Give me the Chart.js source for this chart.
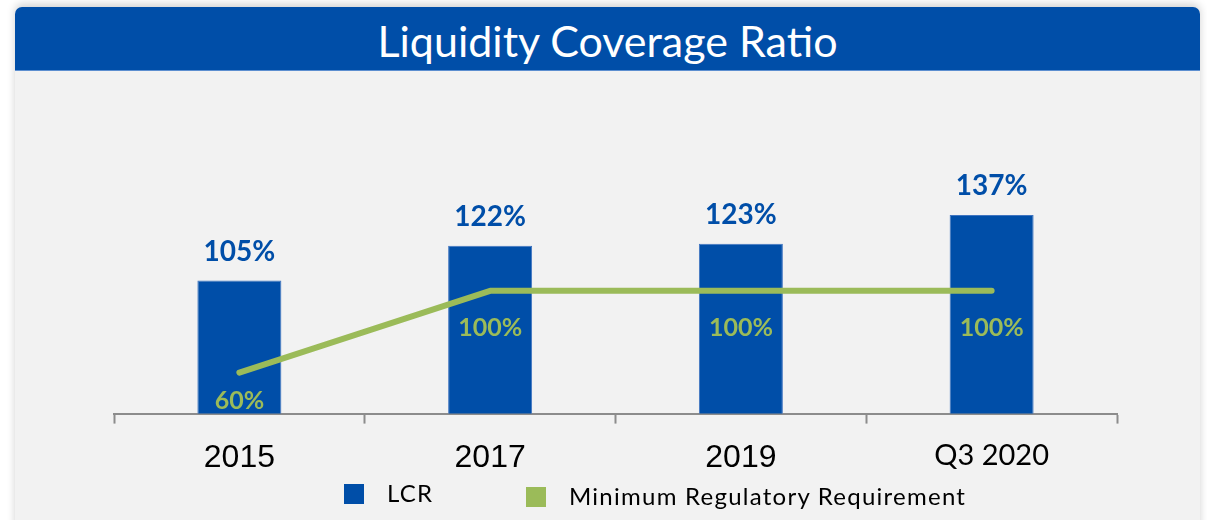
<!DOCTYPE html>
<html>
<head>
<meta charset="utf-8">
<script src="https://cdn.jsdelivr.net/npm/chart.js@4/dist/chart.umd.min.js"></script>
<style>
    html, body {
        margin: 0;
        padding: 0;
        background: #ffffff;
        width: 1207px;
        height: 520px;
        overflow: hidden;
    }
    .panel {
        position: absolute;
        left: 15px;
        top: 7px;
        width: 1185px;
        height: 540px;
        background: #f2f2f2;
        border-radius: 7px 7px 0 0;
        box-shadow: 0 -3px 8px rgba(0, 0, 0, 0.18);
        overflow: hidden;
    }
    .title {
        height: 63px;
        background: #004ea8;
        border-bottom: 1px solid #5d8fd0;
        color: #ffffff;
        font-family: Lato, sans-serif;
        font-size: 43px;
        line-height: 68px;
        text-align: center;
    }
    .chart-box {
        position: absolute;
        left: 15px;
        top: 70px;
        width: 1185px;
        height: 426px;
    }
    .legend {
        position: absolute;
        top: 480px;
        left: 0;
        width: 1207px;
        font-family: Lato, sans-serif;
        font-size: 24px;
        color: #000000;
    }
    .legend-item {
        position: absolute;
        top: 0;
        height: 28px;
        line-height: 28px;
        white-space: nowrap;
    }
    .legend-item .swatch {
        position: absolute;
        left: 0;
        top: 2px;
        width: 20px;
        height: 20px;
    }
    .legend-item .text {
        position: absolute;
        left: 43px;
        top: -3px;
        letter-spacing: 1.25px;
    }
</style>
</head>
<body>
<div class="panel">
    <div class="title">Liquidity Coverage Ratio</div>
</div>
<div class="chart-box"><canvas id="lcrChart"></canvas></div>
<div class="legend" id="legend"></div>

<script>
// Data
const categories = ['2015', '2017', '2019', 'Q3 2020'];
const lcrValues = [105, 122, 123, 137];
const minimumValues = [60, 100, 100, 100];
const seriesNames = ['LCR', 'Minimum Regulatory Requirement'];

const BLUE = '#004ea8';
const GREEN = '#9bbb59';
const AXIS_GREY = '#8c8c8c';

// Percent labels over bars and under the line
const valueLabels = {
    id: 'valueLabels',
    afterDatasetsDraw(chart) {
        const { ctx, chartArea } = chart;
        ctx.save();
        ctx.textAlign = 'center';
        ctx.textBaseline = 'middle';

        const barMeta = chart.getDatasetMeta(0);
        ctx.fillStyle = BLUE;
        ctx.font = "bold 28px Lato, sans-serif";
        barMeta.data.forEach((bar, i) => {
            const v = chart.data.datasets[0].data[i];
            ctx.fillText(v + '%', bar.x, bar.y - 29);
        });

        const lineMeta = chart.getDatasetMeta(1);
        ctx.fillStyle = GREEN;
        ctx.font = "bold 25px Lato, sans-serif";
        lineMeta.data.forEach((pt, i) => {
            const v = chart.data.datasets[1].data[i];
            const y = Math.min(pt.y + 37, chartArea.bottom - 13);
            ctx.fillText(v + '%', pt.x, y);
        });
        ctx.restore();
    }
};

const chart = new Chart(document.getElementById('lcrChart'), {
    type: 'bar',
    data: {
        labels: categories,
        datasets: [{
            label: seriesNames[0],
            data: lcrValues,
            backgroundColor: BLUE,
            borderColor: '#3f74c0',
            borderWidth: 1,
            borderSkipped: 'bottom',
            barPercentage: 0.335,
            categoryPercentage: 1,
            order: 2
        }, {
            type: 'line',
            label: seriesNames[1],
            data: minimumValues,
            borderColor: GREEN,
            backgroundColor: GREEN,
            borderWidth: 6,
            borderCapStyle: 'round',
            borderJoinStyle: 'round',
            pointRadius: 0,
            tension: 0,
            fill: false,
            order: 1
        }]
    },
    options: {
        responsive: true,
        maintainAspectRatio: false,
        animation: false,
        layout: {
            padding: { left: 99, right: 83, top: 98, bottom: 4 }
        },
        plugins: {
            legend: { display: false },
            tooltip: { enabled: false }
        },
        scales: {
            x: {
                offset: true,
                grid: {
                    offset: true,
                    drawOnChartArea: false,
                    drawTicks: true,
                    tickLength: 10,
                    tickWidth: 2,
                    tickColor: AXIS_GREY
                },
                border: {
                    display: true,
                    color: AXIS_GREY,
                    width: 2
                },
                ticks: {
                    color: '#000000',
                    padding: 15,
                    font: (ctx) => {
                        const label = categories[ctx.index] || '';
                        return label.indexOf('Q') === 0
                            ? { family: 'Lato, sans-serif', size: 29 }
                            : { family: "'Liberation Sans', Arial, sans-serif", size: 32 };
                    }
                }
            },
            y: {
                display: false,
                min: 40,
                max: 160
            }
        }
    },
    plugins: [valueLabels]
});

// Legend drawn from the dataset settings
const legendPositions = [344, 526];
const legendTops = [2, 5];
const legendEl = document.getElementById('legend');
chart.data.datasets.forEach((ds, i) => {
    const item = document.createElement('div');
    item.className = 'legend-item';
    item.style.left = legendPositions[i] + 'px';
    item.style.top = legendTops[i] + 'px';
    const sw = document.createElement('span');
    sw.className = 'swatch';
    sw.style.background = i === 0 ? ds.backgroundColor : ds.borderColor;
    const tx = document.createElement('span');
    tx.className = 'text';
    tx.textContent = ds.label;
    item.appendChild(sw);
    item.appendChild(tx);
    legendEl.appendChild(item);
});
</script>
</body>
</html>
